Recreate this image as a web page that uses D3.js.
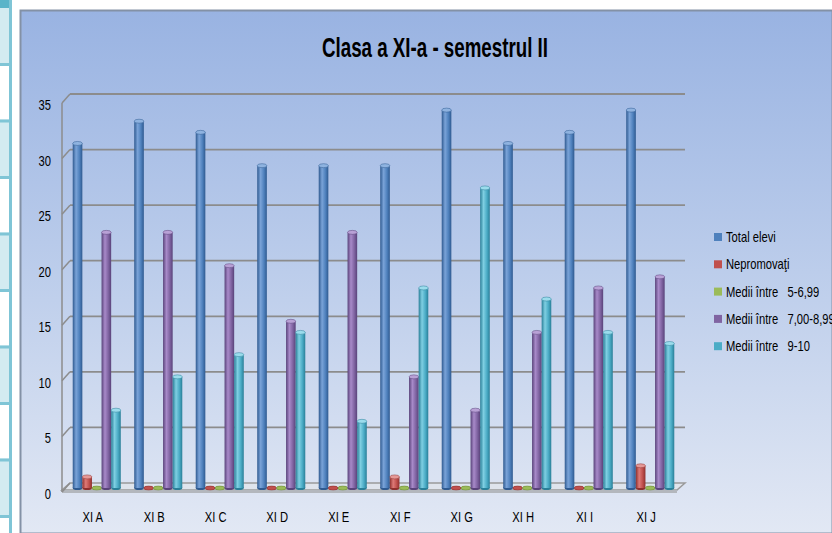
<!DOCTYPE html>
<html>
<head>
<meta charset="utf-8">
<script src="https://cdn.jsdelivr.net/npm/d3@7"></script>
<style>
  body { margin: 0; background: #fff; }
  svg { display: block; }
  text { font-family: "Liberation Sans Narrow", "Liberation Sans", Arial, sans-serif; }
</style>
</head>
<body>
<div id="chart"></div>
<script>
// chart values
var categories = ['XI A', 'XI B', 'XI C', 'XI D', 'XI E', 'XI F', 'XI G', 'XI H', 'XI I', 'XI J'];
var totalElevi = [31, 33, 32, 29, 29, 29, 34, 31, 32, 34];
var nepromovati = [1, 0, 0, 0, 0, 1, 0, 0, 0, 2];
var medii5 = [0, 0, 0, 0, 0, 0, 0, 0, 0, 0];
var medii7 = [23, 23, 20, 15, 23, 10, 7, 14, 18, 19];
var medii9 = [7, 10, 12, 14, 6, 18, 27, 17, 14, 13];
var seriesNames = ['Total elevi', 'Nepromovaţi', 'Medii între   5-6,99', 'Medii între   7,00-8,99', 'Medii între   9-10'];
var yTicks = [0, 5, 10, 15, 20, 25, 30, 35];

var seriesValues = [totalElevi, nepromovati, medii5, medii7, medii9];
var colors = [
    { base: '#4f81bd', dark: '#2f5a90', light: '#7aa3d8', top: '#8fb3e0' },
    { base: '#c0504d', dark: '#8e302e', light: '#de7a77', top: '#e59896' },
    { base: '#9bbb59', dark: '#6f8c37', light: '#bcd685', top: '#c9de9c' },
    { base: '#8064a2', dark: '#59437a', light: '#a88ac9', top: '#b9a1d6' },
    { base: '#4bacc6', dark: '#2a7f98', light: '#7fcfe2', top: '#9bdcec' }
];

var W = 832, H = 533;
var squeeze = 0.8; // the labels use a condensed face
var svg = d3.select('#chart').append('svg')
    .attr('width', W)
    .attr('height', H);
var defs = svg.append('defs');

// chart background gradient
var bg = defs.append('linearGradient').attr('id', 'bg')
    .attr('x1', 0).attr('y1', 0).attr('x2', 0).attr('y2', 1);
bg.append('stop').attr('offset', '0%').attr('stop-color', '#99b3e2');
bg.append('stop').attr('offset', '50%').attr('stop-color', '#bccdeb');
bg.append('stop').attr('offset', '100%').attr('stop-color', '#e2e8f4');

colors.forEach(function (c, i) {
    var g = defs.append('linearGradient').attr('id', 'cyl' + i)
        .attr('x1', 0).attr('y1', 0).attr('x2', 1).attr('y2', 0);
    g.append('stop').attr('offset', '0%').attr('stop-color', c.dark);
    g.append('stop').attr('offset', '35%').attr('stop-color', c.light);
    g.append('stop').attr('offset', '70%').attr('stop-color', c.base);
    g.append('stop').attr('offset', '100%').attr('stop-color', c.dark);
});

function narrow(sel, x, y) {
    sel.attr('x', 0).attr('y', 0)
        .attr('transform', 'translate(' + x + ',' + y + ') scale(' + squeeze + ',1)');
}

// left strip (table cells behind the chart)
var strip = svg.append('g');
strip.append('rect').attr('x', 0).attr('y', 0).attr('width', 10).attr('height', H).attr('fill', '#d3ebf1');
strip.append('rect').attr('x', 0).attr('y', 0).attr('width', 10).attr('height', 8).attr('fill', '#5ab4c9');
d3.range(0, 9).forEach(function (i) {
    var y = 63 + i * 56.5;
    strip.append('rect').attr('x', 0).attr('y', y).attr('width', 10).attr('height', 3).attr('fill', '#7fc5d6');
    if (i % 2 === 0) {
        strip.append('rect').attr('x', 0).attr('y', y + 3).attr('width', 10)
            .attr('height', Math.min(53.5, H - y - 3)).attr('fill', '#ffffff');
    }
});
strip.append('rect').attr('x', 9).attr('y', 0).attr('width', 3).attr('height', H).attr('fill', '#7fc5d6');

// chart area
svg.append('rect')
    .attr('x', 20.5).attr('y', 10.5)
    .attr('width', W - 20).attr('height', H - 10)
    .attr('fill', 'url(#bg)')
    .attr('stroke', '#8391a6')
    .attr('stroke-width', 2);

svg.append('text')
    .attr('x', 435)
    .attr('y', 57)
    .attr('text-anchor', 'middle')
    .attr('font-size', 27)
    .attr('font-weight', 'bold')
    .attr('textLength', 226)
    .attr('lengthAdjust', 'spacingAndGlyphs')
    .attr('fill', '#000')
    .text('Clasa a XI-a - semestrul II');

// 3D geometry: back wall, front edge, depth offset
var depthX = 8, depthY = 9;
var backLeft = 70, backRight = 685;
var yBack = d3.scaleLinear().domain([0, 35]).range([483, 94]);
var yFront = d3.scaleLinear().domain([0, 35]).range([483 + depthY, 94 + depthY]);
var yBar = d3.scaleLinear().domain([0, 35]).range([488, 488 - 389]);

var xFront = d3.scaleBand().domain(categories).range([backLeft - depthX, backRight - depthX]);
var xMid = d3.scaleBand().domain(categories).range([backLeft - depthX / 2, backRight - depthX / 2]);
var xSub = d3.scaleBand().domain(d3.range(seriesValues.length))
    .range([0, xMid.bandwidth()]).paddingInner(0).paddingOuter(0.7);

var grid = svg.append('g');
// floor
grid.append('polygon')
    .attr('points', [
        [backLeft, yBack(0)], [backRight, yBack(0)],
        [backRight - depthX, yFront(0) - 2], [backLeft - depthX, yFront(0) - 2]
    ].map(function (p) { return p.join(','); }).join(' '))
    .attr('fill', '#dfe4ec')
    .attr('stroke', '#9a9a9a')
    .attr('stroke-width', 1.5);
grid.append('rect')
    .attr('x', backLeft - depthX).attr('y', yFront(0) - 2)
    .attr('width', backRight - backLeft).attr('height', 3)
    .attr('fill', '#b3b7bd');

// gridlines on back wall + diagonals on side wall
yTicks.forEach(function (t) {
    if (t > 0) {
        grid.append('line')
            .attr('x1', backLeft).attr('x2', backRight)
            .attr('y1', yBack(t)).attr('y2', yBack(t))
            .attr('stroke', '#8c8c8c').attr('stroke-width', 1.8);
    }
    grid.append('line')
        .attr('x1', backLeft - depthX).attr('y1', yFront(t))
        .attr('x2', backLeft).attr('y2', yBack(t))
        .attr('stroke', '#8c8c8c').attr('stroke-width', 1.5);
});
grid.append('line')
    .attr('x1', backLeft - depthX).attr('x2', backLeft - depthX)
    .attr('y1', yFront(35)).attr('y2', yFront(0))
    .attr('stroke', '#8c8c8c').attr('stroke-width', 1.5);

// y labels
svg.append('g').selectAll('text')
    .data(yTicks)
    .enter().append('text')
    .each(function (d) { narrow(d3.select(this), 51, yFront(d) + 7); })
    .attr('text-anchor', 'end')
    .attr('font-size', 14)
    .attr('fill', '#000')
    .text(function (d) { return d; });

// x labels
svg.append('g').selectAll('text')
    .data(categories)
    .enter().append('text')
    .each(function (d) { narrow(d3.select(this), xFront(d) + xFront.bandwidth() / 2, 522); })
    .attr('text-anchor', 'middle')
    .attr('font-size', 14)
    .attr('fill', '#000')
    .text(function (d) { return d; });

// cylinders
var bars = svg.append('g');
categories.forEach(function (cat, ci) {
    seriesValues.forEach(function (vals, si) {
        var v = vals[ci];
        var w = xSub.bandwidth();
        var x = xMid(cat) + xSub(si);
        var y0 = yBar(0), y1 = yBar(v);
        var c = colors[si];
        var g = bars.append('g');
        g.append('ellipse')
            .attr('cx', x + w / 2).attr('cy', y0)
            .attr('rx', w / 2).attr('ry', 2)
            .attr('fill', c.dark);
        if (v > 0) {
            g.append('rect')
                .attr('x', x).attr('y', y1)
                .attr('width', w).attr('height', y0 - y1)
                .attr('fill', 'url(#cyl' + si + ')');
        }
        g.append('ellipse')
            .attr('cx', x + w / 2).attr('cy', y1)
            .attr('rx', w / 2).attr('ry', 2)
            .attr('fill', v > 0 ? c.top : c.base)
            .attr('stroke', c.dark)
            .attr('stroke-width', 0.5);
    });
});

// legend
var legend = svg.append('g');
seriesNames.forEach(function (name, i) {
    var y = 233 + i * 27.3;
    legend.append('rect')
        .attr('x', 714).attr('y', y)
        .attr('width', 8).attr('height', 8)
        .attr('fill', colors[i].base);
    legend.append('text')
        .each(function () { narrow(d3.select(this), 726, y + 9); })
        .attr('font-size', 14)
        .attr('fill', '#000')
        .style('white-space', 'pre')
        .text(name);
});
</script>
</body>
</html>
